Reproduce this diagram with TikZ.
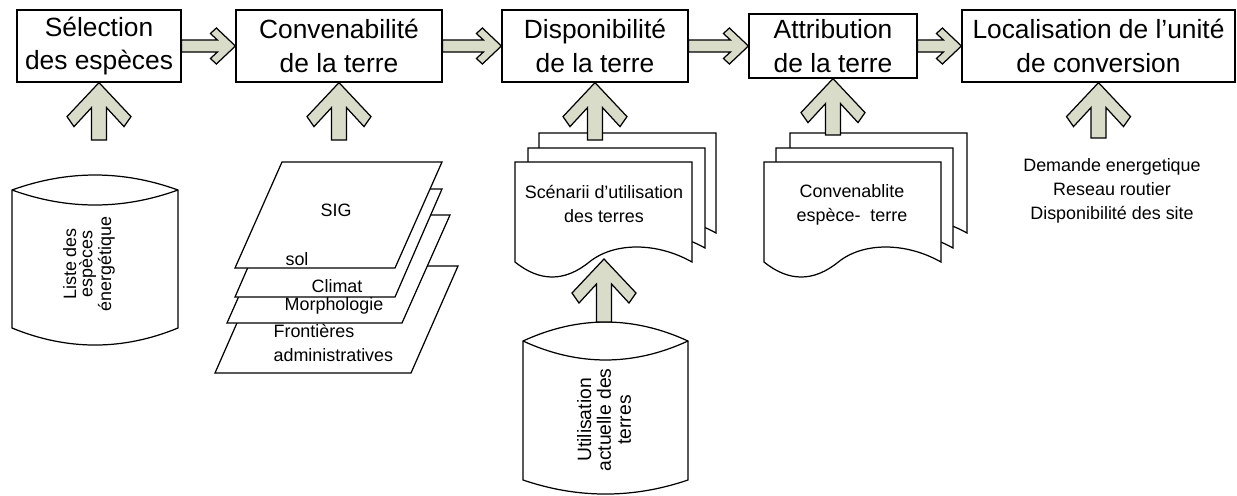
\documentclass[tikz,border=0pt]{standalone}
\usepackage{fontspec}
\setmainfont{Liberation Sans}
\usetikzlibrary{calc}
\definecolor{arrowfill}{RGB}{216,220,200}

\begin{document}
\begin{tikzpicture}[x=0.02cm, y=-0.02cm, line width=0.7pt,
  stage/.style={draw, fill=white, inner sep=0pt, align=center,
    font=\fontsize{15}{19.3}\selectfont},
  small/.style={inner sep=0pt, align=center,
    font=\fontsize{10.2}{13.6}\selectfont},
  % fat arrow pointing right, shaft starting at the source
  harrow/.style={draw, fill=arrowfill, to path={
    (\tikztotarget) -- ++(-19,-18) -- ++(-6,5.5) -- ++(7,6.5)
    -- ($(\tikztostart)+(0,-6)$) -- ($(\tikztostart)+(0,6)$)
    -- ($(\tikztotarget)+(-18,6)$) -- ($(\tikztotarget)+(-25,12.5)$)
    -- ($(\tikztotarget)+(-19,18)$) -- cycle}},
  % fat arrow pointing up
  varrow/.style={draw, fill=arrowfill, to path={
    (\tikztotarget) -- ++(32,34) -- ++(-7,10) -- ++(-17.5,-19)
    -- ($(\tikztostart)+(7.5,0)$) -- ($(\tikztostart)+(-7.5,0)$)
    -- ($(\tikztotarget)+(-7.5,25)$) -- ($(\tikztotarget)+(-25,44)$)
    -- ($(\tikztotarget)+(-32,34)$) -- cycle}},
  docpage/.pic={
    \draw[fill=white] (0,0) -- (177,0) -- (177,100)
      .. controls (141.6,80) and (99.1,80) .. (74.3,100)
      .. controls (49.6,120) and (24.8,120) .. (0,100) -- cycle;
  },
]
\useasboundingbox (0,0) rectangle (1237,495);

% process stages
\node[stage, minimum width=3.28cm, minimum height=1.44cm] (b1) at (99,46) {Sélection\\des espèces};
\node[stage, minimum width=4.12cm, minimum height=1.44cm] (b2) at (339,46) {Convenabilité\\de la terre};
\node[stage, minimum width=3.72cm, minimum height=1.44cm] (b3) at (595,46) {Disponibilité\\de la terre};
\node[stage, minimum width=3.36cm, minimum height=1.28cm] (b4) at (833,46) {Attribution\\de la terre};
\node[stage, minimum width=5.46cm, minimum height=1.44cm] (b5) at (1098.5,46) {Localisation de l’unité\\de conversion};

\draw[harrow] (b1.east) to (b2.west);
\draw[harrow] (b2.east) to (b3.west);
\draw[harrow] (b3.east) to (b4.west);
\draw[harrow] (b4.east) to (b5.west);

% database: species list
\draw[fill=white] (12,190) -- (12,328) .. controls (67.3,350.7) and (122.7,350.7) .. (178,328)
  -- (178,190) .. controls (122.7,170) and (67.3,170) .. cycle;
\draw (12,190) .. controls (67.3,210) and (122.7,210) .. (178,190);
\node[inner sep=0pt, align=center, rotate=90, font=\fontsize{10.2}{9.2}\selectfont] (c1) at (89,264)
  {Liste des\\espèces\\énergétique};

% GIS layers
\draw[fill=white] (262,266) -- (458,266) -- (411,373) -- (215,373) -- cycle;
\draw[fill=white] (275,215) -- (450,215) -- (402,323) -- (227,323) -- cycle;
\draw[fill=white] (282,189) -- (442,189) -- (395,297) -- (235,297) -- cycle;
\draw[fill=white] (282,162) -- (442,162) -- (395,268) -- (235,268) -- cycle;
\node[small] (sig) at (336,210) {SIG};
\node[small] (sol) at (297,259) {sol};
\node[small] (climat) at (337,286) {Climat};
\node[small] (morpho) at (334,306) {Morphologie};
\node[small, align=left, anchor=north west] (admin) at (273,324) {Frontières\\administratives};

% land use scenarios
\pic at (539,133) {docpage};
\pic at (528,148) {docpage};
\pic at (515,162) {docpage};
\node[small] (d1) at (604,204) {Scénarii d’utilisation\\des terres};

% species-land suitability
\pic at (790,133) {docpage};
\pic at (776,148) {docpage};
\pic at (764,162) {docpage};
\node[small] (d2) at (852,205) {Convenablite\\espèce-\ \ terre};

% database: current land use
\draw[fill=white] (523,341) -- (523,480) .. controls (578,498.7) and (633,498.7) .. (688,480)
  -- (688,341) .. controls (633,315.7) and (578,315.7) .. cycle;
\draw (523,341) .. controls (578,366.3) and (633,366.3) .. (688,341);
\node[inner sep=0pt, align=center, rotate=90, font=\fontsize{11}{11.3}\selectfont] (c2) at (604,420)
  {Utilisation\\actuelle des\\terres};

% conversion unit criteria
\node[small] (site) at (1112,191) {Demande energetique\\Reseau routier\\Disponibilité des site};

% inputs into each stage
\coordinate (a1) at (99,140);
\coordinate (a2) at (339,140);
\coordinate (a3) at (595,140);
\coordinate (a4) at (833,135);
\coordinate (a5) at (1098.5,138);
\coordinate (c2top) at (604,322);
\coordinate (d1tip) at (604,259);
\draw[varrow] (a1) to (b1.south);
\draw[varrow] (a2) to (b2.south);
\draw[varrow] (a3) to (b3.south);
\draw[varrow] (a4) to (b4.south);
\draw[varrow] (a5) to (b5.south);
\draw[varrow] (c2top) to (d1tip);
\end{tikzpicture}
\end{document}
